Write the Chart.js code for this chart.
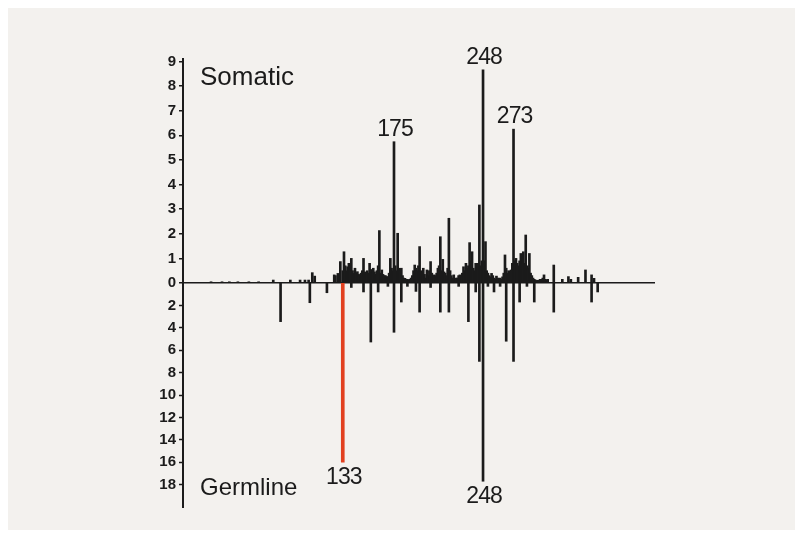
<!DOCTYPE html>
<html>
<head>
<meta charset="utf-8">
<script src="https://cdn.jsdelivr.net/npm/chart.js@4.4.0/dist/chart.umd.min.js"></script>
<style>
  html, body { margin: 0; padding: 0; background: #fff; }
  canvas { display: block; }
</style>
</head>
<body>
<canvas id="chart" width="803" height="538"></canvas>
<script>
// codon positions and mutation frequencies (%)
const somaticCodons = [25, 34, 40, 47, 56, 64, 76, 90, 98, 102, 105, 108, 110,
  126, 127, 129, 131, 133, 134, 135, 136, 137, 138, 139, 140, 141, 142, 143, 144, 145, 146, 147, 148, 149,
  150, 151, 152, 153, 154, 155, 156, 157, 158, 159, 160, 161, 162, 163, 164, 165, 166, 167, 168, 169,
  170, 171, 172, 173, 174, 175, 176, 177, 178, 179, 180, 181, 182, 183, 184, 185, 186, 187, 188, 189,
  190, 191, 192, 193, 194, 195, 196, 197, 198, 199, 200, 201, 202, 203, 204, 205, 206, 207, 208, 209,
  210, 211, 212, 213, 214, 215, 216, 217, 218, 219, 220, 221, 222, 223, 224, 225, 226, 227, 228, 229,
  230, 231, 232, 233, 234, 235, 236, 237, 238, 239, 240, 241, 242, 243, 244, 245, 246, 247, 248, 249,
  250, 251, 252, 253, 254, 255, 256, 257, 258, 259, 260, 261, 262, 263, 264, 265, 266, 267, 268, 269,
  270, 271, 272, 273, 274, 275, 276, 277, 278, 279, 280, 281, 282, 283, 284, 285, 286, 287, 288, 289,
  290, 291, 292, 293, 294, 295, 296, 297, 298, 299, 300, 301, 306, 313, 318, 320, 326, 332, 337, 339];
const somaticValues = [0.05, 0.05, 0.05, 0.05, 0.05, 0.05, 0.12, 0.12, 0.12, 0.12, 0.12, 0.42, 0.28,
  0.33, 0.3, 0.39, 0.87, 0.5, 1.27, 0.7, 0.5, 0.66, 0.8, 0.6, 1.0, 0.5, 0.39, 0.6, 0.4, 0.46, 0.35, 0.3, 0.4, 0.5,
  1.0, 0.45, 0.33, 0.5, 0.4, 0.8, 0.55, 0.4, 0.6, 0.45, 0.35, 0.5, 0.7, 2.13, 0.4, 0.53, 0.35, 0.3, 0.3, 0.26,
  0.25, 0.4, 1.0, 0.6, 0.5, 5.74, 0.7, 0.5, 2.02, 0.6, 0.5, 0.6, 0.3, 0.2, 0.19, 0.15, 0.15, 0.12, 0.15, 0.2,
  0.3, 0.5, 0.73, 0.6, 0.5, 0.7, 1.48, 0.5, 0.4, 0.6, 0.35, 0.2, 0.53, 0.3, 0.5, 0.87, 0.4, 0.25, 0.33, 0.3,
  0.4, 0.6, 0.7, 1.88, 0.5, 0.96, 0.45, 0.4, 0.3, 0.6, 2.63, 0.5, 0.3, 0.2, 0.33, 0.15, 0.2, 0.2, 0.3, 0.33,
  0.25, 0.4, 0.66, 0.5, 0.8, 0.6, 0.7, 1.64, 0.9, 1.27, 0.6, 0.5, 0.8, 0.6, 0.8, 3.17, 0.7, 0.9, 8.66, 0.9,
  1.68, 0.5, 0.4, 0.3, 0.25, 0.39, 0.3, 0.2, 0.15, 0.28, 0.2, 0.15, 0.2, 0.15, 0.25, 0.4, 1.14, 0.6, 0.4, 0.5,
  0.4, 0.53, 0.8, 6.25, 0.9, 1.0, 0.8, 0.7, 0.9, 1.2, 1.0, 1.27, 0.8, 1.95, 0.7, 0.6, 1.2, 0.4, 0.3, 0.2,
  0.15, 0.12, 0.1, 0.11, 0.12, 0.15, 0.15, 0.2, 0.33, 0.15, 0.12, 0.15, 0.73, 0.15, 0.26, 0.15, 0.23, 0.53, 0.33, 0.19];

const germlineCodons = [82, 106, 120, 140, 150, 156, 162, 170, 175, 181, 186, 193, 196, 205, 213, 220,
  228, 236, 242, 245, 248, 252, 257, 262, 267, 273, 278, 284, 290, 306, 337, 342];
const germlineValues = [3.45, 1.76, 0.87, 0.4, 0.8, 5.27, 0.8, 0.3, 4.4, 1.7, 0.3, 0.75, 2.6, 0.4, 2.6, 2.6,
  0.3, 3.45, 0.8, 7.0, 17.7, 0.3, 0.8, 0.3, 5.2, 7.0, 1.7, 0.3, 1.7, 2.6, 1.7, 0.8];

const hotspotCodons = [133];
const hotspotValues = [16];

const somaticTicks = [0, 1, 2, 3, 4, 5, 6, 7, 8, 9];
const germlineTicks = [2, 4, 6, 8, 10, 12, 14, 16, 18];

const somaticPeaks = [175, 248, 273];
const germlinePeaks = [133, 248];

const ink = '#1b1b1b';
const font = '"Liberation Sans", Arial, sans-serif';

function points(codons, values) {
    return codons.map((c, i) => ({ x: c, y: values[i] }));
}

const textPlugin = {
    id: 'texts',
    beforeDraw(chart) {
        const ctx = chart.ctx;
        ctx.save();
        ctx.fillStyle = '#ffffff';
        ctx.fillRect(0, 0, chart.width, chart.height);
        ctx.fillStyle = '#f3f1ee';
        ctx.fillRect(8, 8, chart.width - 16, chart.height - 16);
        ctx.restore();
    },
    afterDatasetsDraw(chart) {
        const { ctx, chartArea, scales } = chart;
        ctx.save();
        ctx.fillStyle = ink;
        ctx.textAlign = 'left';
        ctx.textBaseline = 'alphabetic';
        ctx.font = '26px ' + font;
        ctx.fillText('Somatic', chartArea.left + 17, 85);
        ctx.font = '24px ' + font;
        ctx.fillText('Germline', chartArea.left + 17, 495);

        ctx.font = '23px ' + font;
        ctx.letterSpacing = '-1px';
        ctx.textAlign = 'center';
        somaticPeaks.forEach(c => {
            const v = somaticValues[somaticCodons.indexOf(c)];
            ctx.fillText(String(c), scales.x.getPixelForValue(c) + 1, scales.yS.getPixelForValue(v) - 6);
        });
        ctx.textBaseline = 'top';
        germlinePeaks.forEach(c => {
            let v = germlineValues[germlineCodons.indexOf(c)];
            if (hotspotCodons.includes(c)) v = hotspotValues[hotspotCodons.indexOf(c)];
            ctx.fillText(String(c), scales.x.getPixelForValue(c) + 1, scales.yG.getPixelForValue(v) + 4);
        });
        ctx.restore();
    }
};

const tickFont = { family: font, size: 15, weight: 'bold' };

new Chart(document.getElementById('chart').getContext('2d'), {
    type: 'bar',
    data: {
        datasets: [
            {
                data: points(somaticCodons, somaticValues),
                yAxisID: 'yS',
                backgroundColor: ink,
                barThickness: 2,
                grouped: false
            },
            {
                data: points(germlineCodons, germlineValues),
                yAxisID: 'yG',
                backgroundColor: ink,
                barThickness: 2,
                grouped: false
            },
            {
                data: points(hotspotCodons, hotspotValues),
                yAxisID: 'yG',
                backgroundColor: '#e2401f',
                barThickness: 3,
                grouped: false
            }
        ]
    },
    options: {
        responsive: false,
        animation: false,
        layout: { padding: { left: 143, right: 148, top: 59, bottom: 31 } },
        plugins: { legend: { display: false }, tooltip: { enabled: false } },
        scales: {
            x: { type: 'linear', min: 2, max: 389, offset: false, display: false },
            yG: {
                type: 'linear',
                position: 'left',
                stack: 'mirror',
                stackWeight: 1,
                reverse: true,
                min: 0,
                max: 20,
                afterBuildTicks: s => { s.ticks = germlineTicks.map(v => ({ value: v })); },
                afterFit: s => { s.width = 40; },
                border: { color: ink, width: 2 },
                grid: { color: 'transparent', tickColor: ink, tickLength: 4, tickWidth: 1.5 },
                ticks: { font: tickFont, color: ink, padding: 3, autoSkip: false }
            },
            yS: {
                type: 'linear',
                position: 'left',
                stack: 'mirror',
                stackWeight: 1,
                min: 0,
                max: 9.1,
                afterBuildTicks: s => { s.ticks = somaticTicks.map(v => ({ value: v })); },
                afterFit: s => { s.width = 40; },
                border: { color: ink, width: 2 },
                grid: {
                    color: c => (c.tick && c.tick.value === 0 ? ink : 'transparent'),
                    lineWidth: 1.5,
                    tickColor: ink,
                    tickLength: 4,
                    tickWidth: 1.5
                },
                ticks: { font: tickFont, color: ink, padding: 3, autoSkip: false }
            }
        }
    },
    plugins: [textPlugin]
});
</script>
</body>
</html>
